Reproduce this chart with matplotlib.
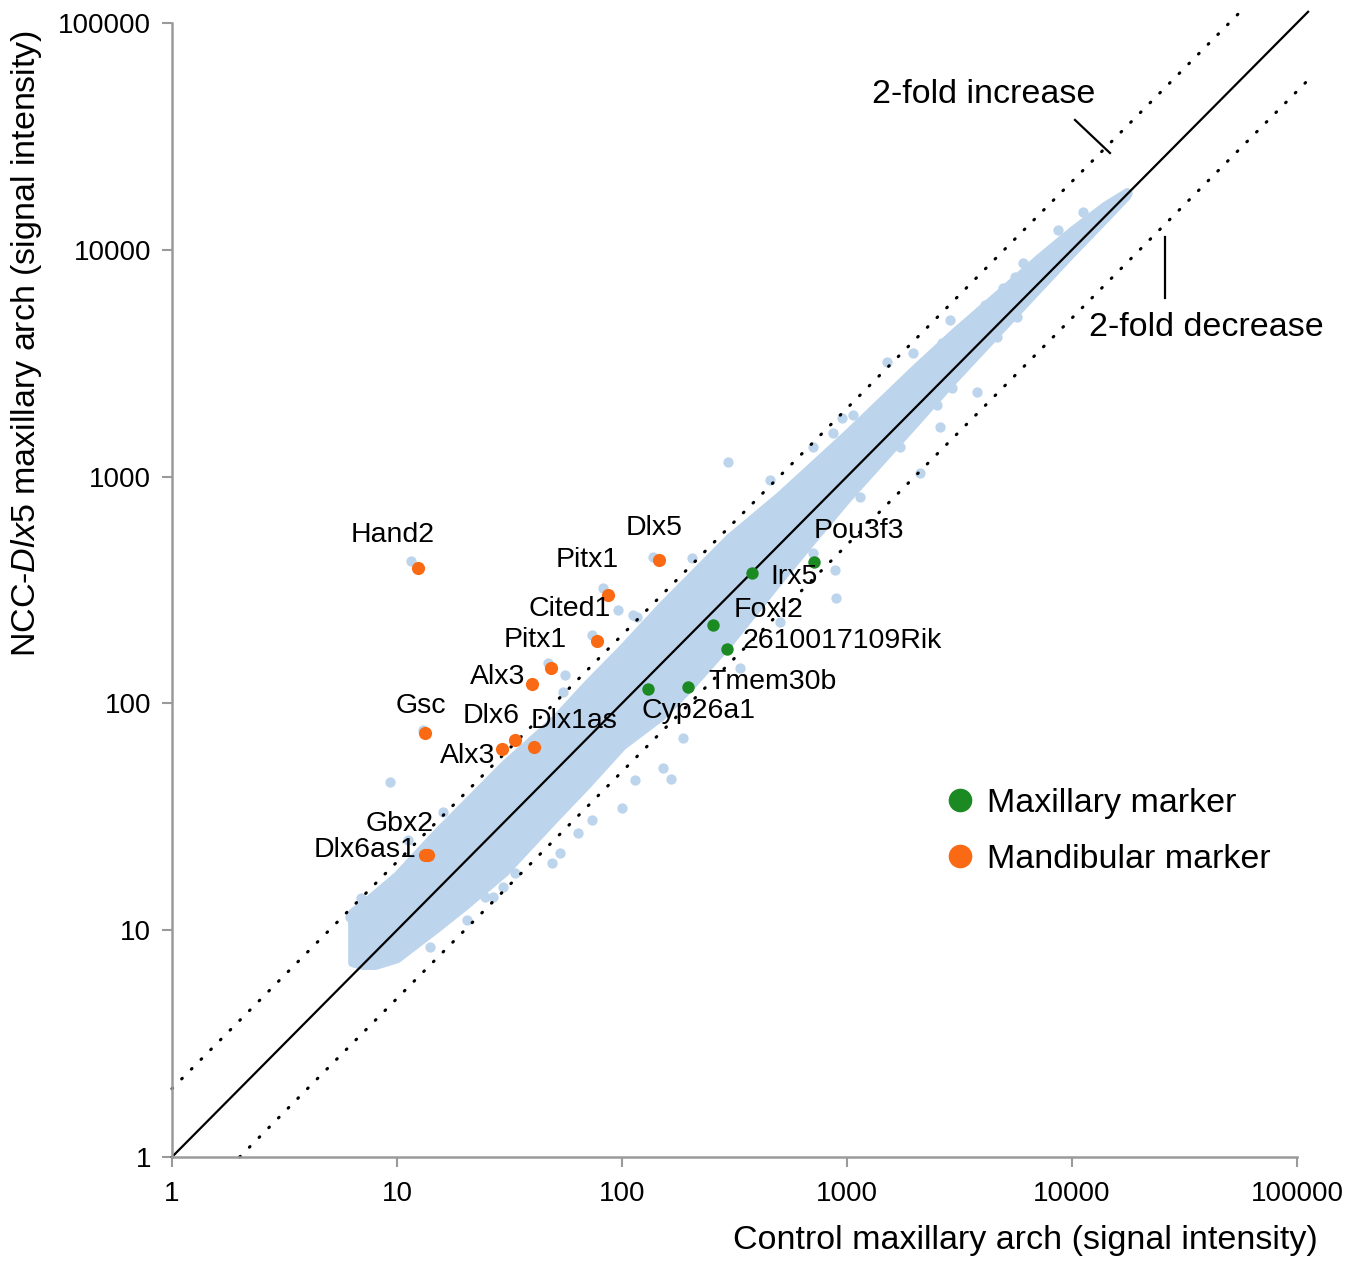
import matplotlib
matplotlib.use("Agg")
import matplotlib.pyplot as plt
from matplotlib.lines import Line2D
from matplotlib.ticker import FixedLocator, NullLocator, FuncFormatter

plt.rcParams['font.family'] = ['Liberation Sans', 'DejaVu Sans']
plt.rcParams['mathtext.fontset'] = 'custom'
plt.rcParams['mathtext.rm'] = 'Liberation Sans'
plt.rcParams['mathtext.it'] = 'Liberation Sans:italic'

# --- data ---
# dense cloud of all probes: lower / upper edge of the band
cloud_x = [6.3, 7, 8, 10, 15, 20, 30, 50, 70, 100, 150, 200, 300, 500, 700,
           1000, 2000, 3000, 5000, 7000, 10000, 14000, 17500]
cloud_lo = [7.2, 7.0, 7.0, 7.5, 10.2, 12.8, 18, 31, 44, 65, 88, 118, 186, 350, 525,
            800, 1720, 2700, 4650, 6650, 9700, 13700, 17300]
cloud_hi = [12, 13, 14.5, 17.5, 27, 36, 54, 85, 122, 175, 270, 360, 540, 825, 1120,
            1550, 3000, 4350, 6750, 9100, 12200, 15700, 18000]

# scattered probes outside / on the edge of the dense band
out_x = [11.5, 9.3, 296, 894, 187, 152, 165, 100, 63.7, 53, 48.9, 114, 73.6, 20.5,
         14.0, 16, 82.4, 96, 73.5, 46.9, 55.8, 13.0, 137, 112, 54.7, 706, 885, 504,
         222, 1506, 950, 3784, 2590, 2110, 1142, 11200, 8670, 6050, 4100, 2870, 706,
         5700, 6.9, 15200, 17550,
         24.6, 29.6, 33.5, 26.7, 11.2, 6.5, 6.2, 455, 205, 117, 334,
         2930, 2512, 1722, 4640, 1965, 2640, 4930, 5580, 1064, 866]
out_y = [425, 45, 1160, 292, 70.4, 51.9, 46.4, 34.6, 26.8, 21.9, 19.8, 45.9, 30.6, 11.1,
         8.4, 33.2, 323, 258, 200, 151, 133, 76.3, 442, 245, 112, 460, 388, 228,
         140, 3200, 1812, 2360, 1655, 1037, 813, 14700, 12200, 8750, 5710, 4900, 1352,
         5060, 13.9, 15450, 17800,
         14.0, 15.5, 17.9, 14.0, 25, 8.4, 11.4, 966, 437, 240, 143,
         2460, 2070, 1352, 4125, 3510, 3880, 6790, 7590, 1870, 1557]

# mandibular markers (orange)
mand_names = ['Hand2', 'Dlx5', 'Pitx1', 'Cited1', 'Pitx1', 'Alx3', 'Gsc', 'Dlx6',
              'Alx3', 'Dlx1as', 'Gbx2', 'Dlx6as1']
mand_x = [12.4, 146, 86.6, 77.4, 48.3, 39.8, 13.3, 33.4, 29.3, 40.6, 13.7, 13.3]
mand_y = [395, 429, 301, 188, 143, 122, 74, 69, 63, 64.3, 21.5, 21.5]
mand_lx = [9.6, 139, 69.9, 58.7, 41.0, 28.1, 12.8, 26.2, 20.7, 61.2, 10.3, 7.2]
mand_ly = [553, 593, 429, 261, 190, 131, 97.4, 88, 58.6, 83.6, 29.4, 22.6]

# maxillary markers (green)
max_names = ['Pou3f3', 'Irx5', 'Foxl2', '2610017109Rik', 'Tmem30b', 'Cyp26a1']
max_x = [713, 378, 254, 293, 197, 130]
max_y = [420, 376, 222, 174, 118, 116]
max_lx = [1130, 581, 446, 950, 469, 218]
max_ly = [576, 361, 258, 188, 124, 92.5]

line_x = [1, 112000]
fold_up_x = [1, 55800]
fold_dn_x = [2, 117500]

blue = '#BCD4EC'
orange = '#FA6A14'
green = '#1C8A22'

fig = plt.figure(figsize=(13.67, 12.61), dpi=100)
ax = fig.add_axes([0.1258, 0.0825, 0.823, 0.8993])
ax.set_xscale('log')
ax.set_yscale('log')

# probe cloud
ax.fill_between(cloud_x, cloud_lo, cloud_hi, color=blue, lw=6, edgecolor=blue,
                joinstyle='round', zorder=1)
ax.scatter(out_x, out_y, s=55, color=blue, lw=0, zorder=1)

# y = x and 2-fold lines
ax.plot(line_x, line_x, color='black', lw=1.6, zorder=2, clip_on=False)
ax.plot(fold_up_x, [2 * v for v in fold_up_x], color='black', lw=2.2,
        ls=(0, (0.3, 4.2)), dash_capstyle='round', zorder=2, clip_on=False)
ax.plot(fold_dn_x, [v / 2 for v in fold_dn_x], color='black', lw=2.2,
        ls=(0, (0.3, 4.2)), dash_capstyle='round', zorder=2, clip_on=False)

# marker genes
ax.scatter(mand_x, mand_y, s=90, color=orange, lw=0, zorder=3)
ax.scatter(max_x, max_y, s=80, color=green, lw=0, zorder=3)
for name, lx, ly in zip(mand_names + max_names, mand_lx + max_lx, mand_ly + max_ly):
    ax.text(lx, ly, name, fontsize=20.5, ha='center', va='center', zorder=4)

# 2-fold annotations
ax.text(4060, 48150, '2-fold increase', fontsize=24.5, ha='center', va='center')
ax.plot([10310, 14750], [37350, 26700], color='black', lw=1.6, clip_on=False)
ax.text(39400, 4520, '2-fold decrease', fontsize=24.5, ha='center', va='center')
ax.plot([25900, 25900], [11380, 6130], color='black', lw=1.6, clip_on=False)

# axes styling
ax.set_xlim(1, 100000)
ax.set_ylim(1, 100000)
ticks = [1, 10, 100, 1000, 10000, 100000]
fmt = FuncFormatter(lambda v, p: f"{v:g}")
for axis in (ax.xaxis, ax.yaxis):
    axis.set_major_locator(FixedLocator(ticks))
    axis.set_minor_locator(NullLocator())
    axis.set_major_formatter(fmt)
for s in ('top', 'right'):
    ax.spines[s].set_visible(False)
for s in ('left', 'bottom'):
    ax.spines[s].set_color('#9A9A9A')
    ax.spines[s].set_linewidth(1.8)
ax.tick_params(axis='both', colors='#9A9A9A', labelcolor='black', labelsize=20,
               length=7, width=1.5)
ax.tick_params(axis='y', pad=8)
ax.tick_params(axis='x', pad=10)

fig.text(1025 / 1367, 1 - 1241 / 1261, 'Control maxillary arch (signal intensity)',
         fontsize=24.5, ha='center', va='center')
fig.text(27 / 1367, 1 - 343 / 1261, r'NCC-$\mathit{Dlx5}$ maxillary arch (signal intensity)',
         fontsize=24.5, ha='center', va='center', rotation=90)

handles = [Line2D([], [], ls='none', marker='o', markersize=16, color=green),
           Line2D([], [], ls='none', marker='o', markersize=16, color=orange)]
ax.legend(handles, ['Maxillary marker', 'Mandibular marker'], loc='center left',
          bbox_to_anchor=(0.670, 0.287), frameon=False, fontsize=24.5, borderpad=0,
          handlelength=1.0, handletextpad=0.3, labelspacing=0.75)

fig.savefig('out.png', dpi=100)
